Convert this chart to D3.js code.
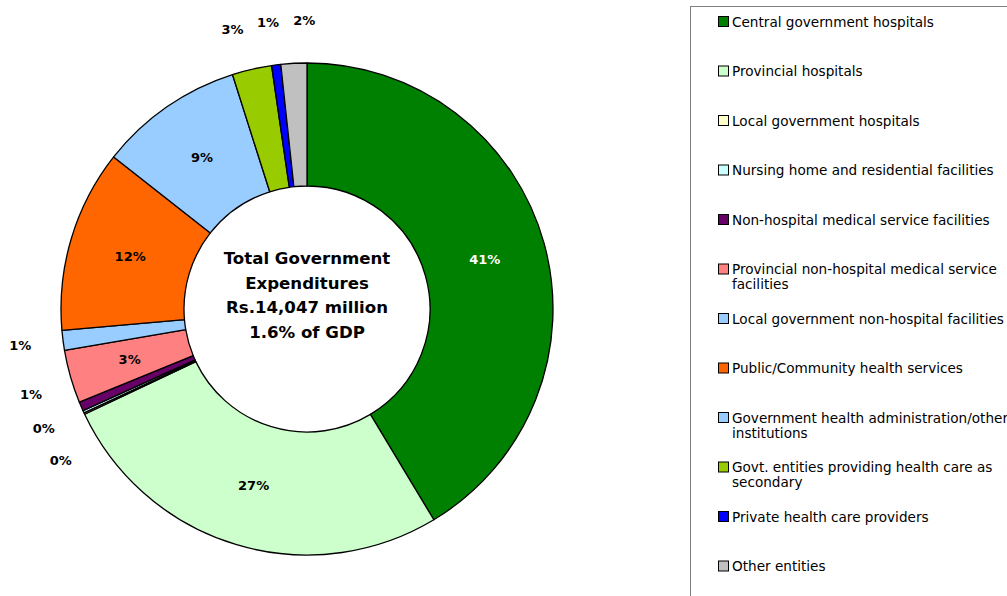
<!DOCTYPE html>
<html>
<head>
<meta charset="utf-8">
<script src="https://cdn.jsdelivr.net/npm/d3@7"></script>
<style>
  body { margin: 0; background: #fff; }
  svg { display: block; font-family: "DejaVu Sans", Verdana, sans-serif; }
</style>
</head>
<body>
<div id="chart"></div>
<script>
var w = 1007, h = 596;

// data (share of total, %)
var categories = [
  "Central government hospitals",
  "Provincial hospitals",
  "Local government hospitals",
  "Nursing home and residential facilities",
  "Non-hospital medical service facilities",
  "Provincial non-hospital medical service facilities",
  "Local government non-hospital facilities",
  "Public/Community health services",
  "Government health administration/other institutions",
  "Govt. entities providing health care as secondary",
  "Private health care providers",
  "Other entities"
];
var shares = [41.4, 26.6, 0.1, 0.15, 0.6, 3.5, 1.3, 12.0, 9.5, 2.6, 0.6, 1.7];
var colors = ["#008000", "#CCFFCC", "#FFFFCC", "#CCFFFF", "#660066", "#FF8080",
              "#99CCFF", "#FF6600", "#99CCFF", "#99CC00", "#0000FF", "#C0C0C0"];
var centerText = ["Total Government", "Expenditures", "Rs.14,047 million", "1.6% of GDP"];

var cx = 307, cy = 309, rOuter = 246, rInner = 123, rLabel = 289;

var svg = d3.select("#chart").append("svg").attr("width", w).attr("height", h);

var data = categories.map(function(c, i){ return {name: c, value: shares[i], color: colors[i]}; });
var total = d3.sum(shares);
var fmt = d3.format(".0%");

var pie = d3.pie().value(function(d){ return d.value; }).sort(null);
var arcs = pie(data);
var arc = d3.arc().innerRadius(rInner).outerRadius(rOuter);
var labelArc = d3.arc().innerRadius((rInner + rOuter) / 2).outerRadius((rInner + rOuter) / 2);

var g = svg.append("g").attr("transform", "translate(" + cx + "," + cy + ")");

g.selectAll("path.slice").data(arcs).enter().append("path")
  .attr("class", "slice")
  .attr("d", arc)
  .attr("fill", function(d){ return d.data.color; })
  .attr("stroke", "#000")
  .attr("stroke-width", 1.3)
  .attr("stroke-linejoin", "round");

// labels inside for big slices, outside for small ones
var inside = arcs.filter(function(d){ return d.data.value / total >= 0.03; });
var outside = arcs.filter(function(d){ return d.data.value / total < 0.03; });

g.selectAll("text.in").data(inside).enter().append("text")
  .attr("class", "in")
  .attr("transform", function(d){ return "translate(" + labelArc.centroid(d) + ")"; })
  .attr("text-anchor", "middle")
  .attr("dy", "0.35em")
  .attr("font-size", 13)
  .attr("font-weight", "bold")
  .attr("fill", function(d){ return d.index === 0 ? "#fff" : "#000"; })
  .text(function(d){ return fmt(d.data.value / total); });

// spread the outside labels along the circle so they don't overlap
var gap = 7.2 * Math.PI / 180;
outside.forEach(function(d){ d.la = (d.startAngle + d.endAngle) / 2; });
for (var it = 0; it < 300; it++) {
  for (var i = 1; i < outside.length; i++) {
    var a = outside[i - 1], b = outside[i];
    var diff = b.la - a.la;
    if (diff < gap) {
      var push = (gap - diff) / 2;
      a.la -= push; b.la += push;
    }
  }
}

g.selectAll("text.out").data(outside).enter().append("text")
  .attr("class", "out")
  .attr("x", function(d){ return rLabel * Math.sin(d.la); })
  .attr("y", function(d){ return -rLabel * Math.cos(d.la); })
  .attr("text-anchor", "middle")
  .attr("dy", "0.35em")
  .attr("font-size", 13)
  .attr("font-weight", "bold")
  .attr("fill", "#000")
  .text(function(d){ return fmt(d.data.value / total); });

// center text
g.selectAll("text.center").data(centerText).enter().append("text")
  .attr("class", "center")
  .attr("x", 0)
  .attr("y", function(d, i){ return -51 + i * 24.7; })
  .attr("dy", "0.35em")
  .attr("text-anchor", "middle")
  .attr("font-size", 16.6)
  .attr("font-weight", "bold")
  .attr("fill", "#000")
  .text(function(d){ return d; });

// legend
var legend = svg.append("g");
legend.append("rect")
  .attr("x", 690.5).attr("y", 6.5)
  .attr("width", 330).attr("height", 600)
  .attr("fill", "#fff")
  .attr("stroke", "#808080")
  .attr("stroke-width", 1);

var ly = d3.scalePoint().domain(d3.range(categories.length)).range([22, 566.5]);
var maxW = 292;

var items = legend.selectAll("g.item").data(data).enter().append("g")
  .attr("class", "item")
  .attr("transform", function(d, i){ return "translate(0," + ly(i) + ")"; });

items.append("rect")
  .attr("x", 718.5).attr("y", -5.5)
  .attr("width", 10).attr("height", 10)
  .attr("fill", function(d){ return d.color; })
  .attr("stroke", "#000")
  .attr("stroke-width", 1);

items.each(function(d){
  var t = d3.select(this).append("text")
    .attr("x", 732).attr("y", 0)
    .attr("dy", "0.35em")
    .attr("font-size", 13.6)
    .attr("fill", "#000");
  var words = d.name.split(" ");
  var line = [];
  var ts = t.append("tspan").attr("x", 732).attr("y", 0);
  var lineNo = 0;
  words.forEach(function(word){
    line.push(word);
    ts.text(line.join(" "));
    if (ts.node().getComputedTextLength() > maxW && line.length > 1) {
      line.pop();
      ts.text(line.join(" "));
      line = [word];
      lineNo++;
      ts = t.append("tspan").attr("x", 732).attr("y", lineNo * 19.5).text(word);
    }
  });
});
</script>
</body>
</html>
